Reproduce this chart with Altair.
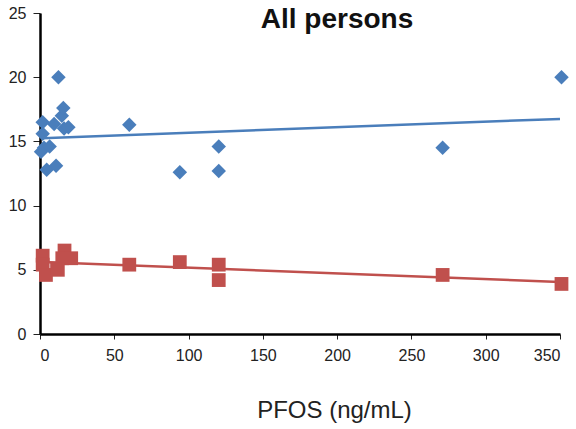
import altair as alt
import pandas as pd

# Blue series (diamonds)
blue_x = [12.4, 1.8, 1.8, 9.5, 14.7, 15.7, 16.2, 19.1, 0.7, 2.7, 6.5, 4.5, 10.8, 60.1, 94.1, 120.3, 120.3, 271.0, 351.0]
blue_y = [20.0, 16.5, 15.6, 16.35, 17.0, 17.6, 16.0, 16.1, 14.2, 14.5, 14.6, 12.8, 13.1, 16.3, 12.6, 14.6, 12.7, 14.5, 20.0]

# Red series (squares)
red_x = [1.8, 1.8, 4.0, 11.5, 16.5, 15.0, 21.0, 12.0, 60.1, 94.1, 120.3, 120.3, 271.0, 351.0]
red_y = [6.1, 5.4, 4.6, 5.1, 6.5, 5.9, 5.9, 5.0, 5.4, 5.6, 5.4, 4.2, 4.6, 3.9]

# Trend lines (endpoints)
trend_x = [1.5, 350]
blue_trend = [15.25, 16.75]
red_trend = [5.6, 4.05]

BLUE = "#4A7EBB"
RED = "#C0504D"

df_b = pd.DataFrame({"x": blue_x, "y": blue_y})
df_r = pd.DataFrame({"x": red_x, "y": red_y})
df_tb = pd.DataFrame({"x": trend_x, "y": blue_trend})
df_tr = pd.DataFrame({"x": trend_x, "y": red_trend})

xs = alt.Scale(domain=[0, 350], nice=False, clamp=False)
ys = alt.Scale(domain=[0, 25], nice=False)

FONT = "Liberation Sans, Arial, sans-serif"

xax = alt.Axis(values=list(range(0, 351, 50)), title="PFOS (ng/mL)", grid=False,
               domainColor="black", domainWidth=2.5, tickColor="#222", tickSize=5,
               labelFontSize=16, labelColor="#222", labelFont=FONT,
               labelPadding=8, titleFont=FONT, titleFontSize=24,
               titleFontWeight="normal", titleColor="#222",
               titleX=294, titleY=76, titleBaseline="middle", titleAlign="center")
yax = alt.Axis(values=list(range(0, 26, 5)), title=None, grid=False,
               domainColor="black", domainWidth=2.5, tickColor="#222", tickSize=7,
               labelFontSize=16, labelColor="#222", labelFont=FONT,
               labelPadding=7)

base_x = alt.X("x:Q", scale=xs, axis=xax)
base_y = alt.Y("y:Q", scale=ys, axis=yax)

line_b = alt.Chart(df_tb).mark_line(color=BLUE, strokeWidth=2.5).encode(x=base_x, y=base_y)
line_r = alt.Chart(df_tr).mark_line(color=RED, strokeWidth=2.5).encode(x=base_x, y=base_y)

pts_b = alt.Chart(df_b).mark_point(shape="diamond", filled=True, color=BLUE, size=210, opacity=1).encode(x=base_x, y=base_y)
pts_r = alt.Chart(df_r).mark_point(shape="square", filled=True, color=RED, size=190, opacity=1).encode(x=base_x, y=base_y)

title = alt.Chart(pd.DataFrame({"t": ["All persons"]})).mark_text(
    font=FONT, fontSize=28, fontWeight="bold", color="#111",
    align="center", baseline="alphabetic"
).encode(x=alt.value(297), y=alt.value(15), text="t:N")

chart = alt.layer(line_b, line_r, pts_b, pts_r, title).properties(
    width=520, height=321,
    autosize=alt.AutoSizeParams(type="none"),
    padding={"left": 40, "top": 13, "right": 16, "bottom": 95},
).configure_view(stroke=None)

chart.save("out.html", embed_options={"renderer": "svg", "actions": False})
